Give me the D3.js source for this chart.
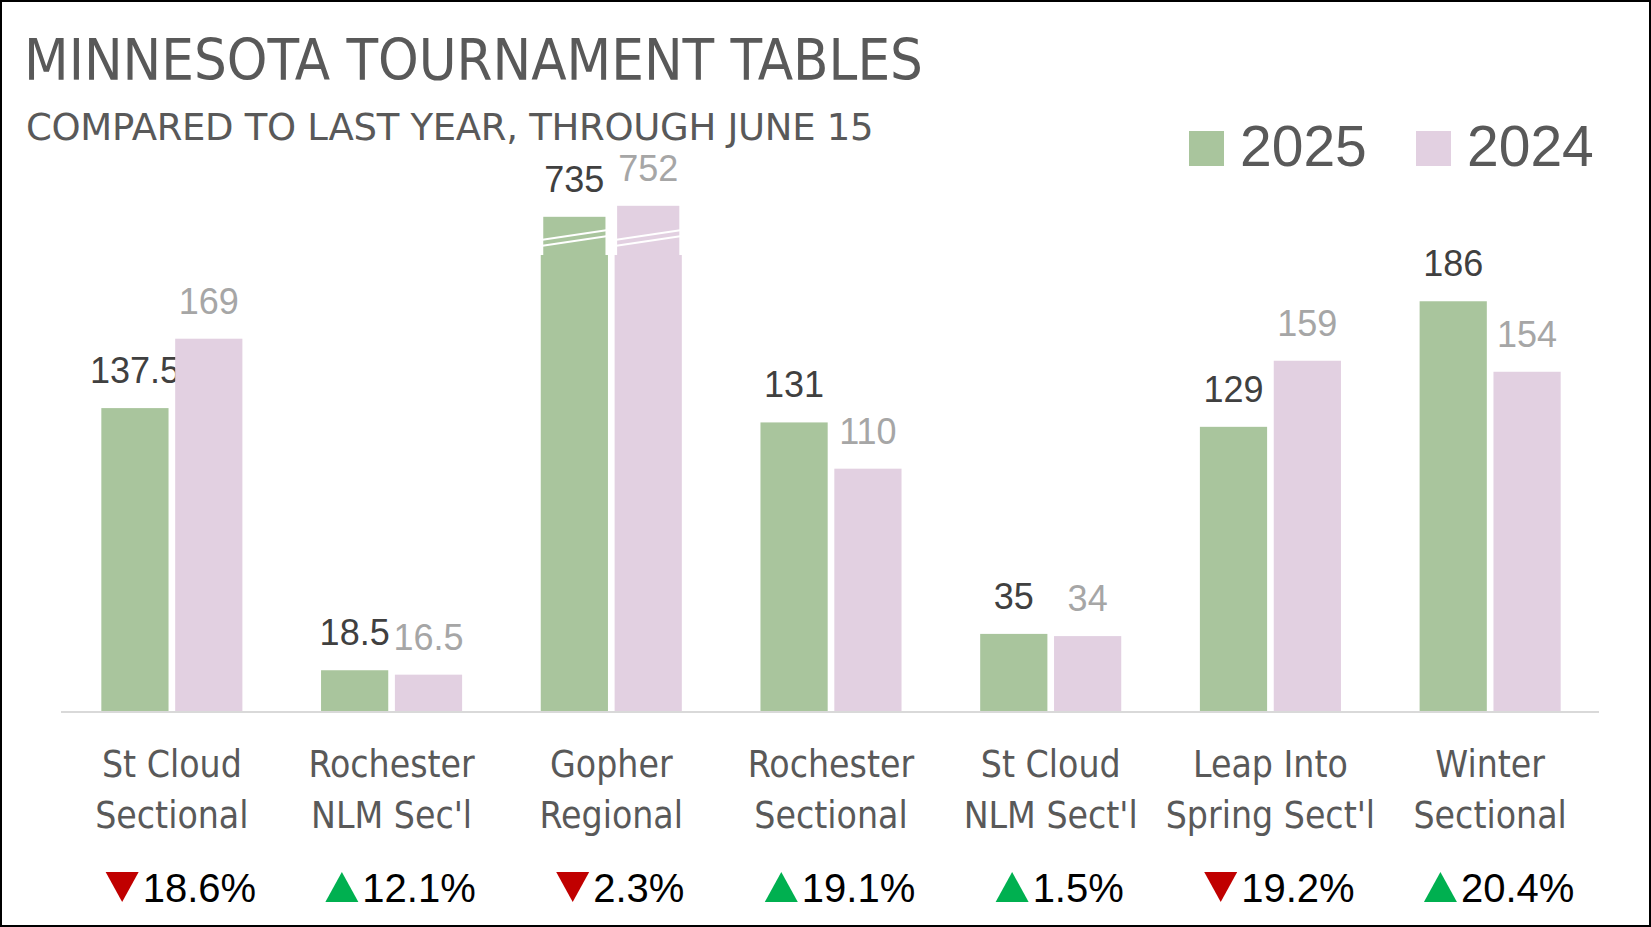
<!DOCTYPE html>
<html>
<head>
<meta charset="utf-8">
<script src="https://cdn.jsdelivr.net/npm/d3@7"></script>
<style>
  html, body { margin: 0; padding: 0; background: #fff; }
  svg { display: block; }
</style>
</head>
<body>
<svg id="chart" width="1651" height="927"></svg>
<script>
// Data
const categories = [
    ["St Cloud", "Sectional"],
    ["Rochester", "NLM Sec'l"],
    ["Gopher", "Regional"],
    ["Rochester", "Sectional"],
    ["St Cloud", "NLM Sect'l"],
    ["Leap Into", "Spring Sect'l"],
    ["Winter", "Sectional"]
];
const years = ["2025", "2024"];
const values2025 = [137.5, 18.5, 735, 131, 35, 129, 186];
const values2024 = [169, 16.5, 752, 110, 34, 159, 154];
const changes = [-18.6, 12.1, -2.3, 19.1, 1.5, -19.2, 20.4];

const colors = {"2025": "#a9c59d", "2024": "#e2d0e1"};
const labelColors = {"2025": "#404040", "2024": "#a6a6a6"};

const W = 1651, H = 927;
const baseline = 711;
const svg = d3.select("#chart");

// Outer frame
svg.append("rect")
    .attr("x", 1).attr("y", 1)
    .attr("width", W - 2).attr("height", H - 2)
    .attr("fill", "#fff")
    .attr("stroke", "#000")
    .attr("stroke-width", 2);

// Title + subtitle
svg.append("text")
    .attr("x", 24).attr("y", 80)
    .attr("font-family", "DejaVu Sans Condensed, DejaVu Sans")
    .attr("font-size", 57.5)
    .attr("fill", "#595959")
    .text("MINNESOTA TOURNAMENT TABLES");

svg.append("text")
    .attr("x", 26).attr("y", 140)
    .attr("font-family", "DejaVu Sans, sans-serif")
    .attr("font-size", 37)
    .attr("letter-spacing", -0.3)
    .attr("fill", "#595959")
    .text("COMPARED TO LAST YEAR, THROUGH JUNE 15");

// Scales
const rows = categories.map((c, i) => ({
    idx: i,
    name: c,
    values: [
        {year: "2025", value: values2025[i]},
        {year: "2024", value: values2024[i]}
    ],
    change: changes[i]
}));

const x0 = d3.scaleBand()
    .domain(d3.range(categories.length))
    .range([62, 1600])
    .paddingInner(0.358)
    .paddingOuter(0.179);

const x1 = d3.scaleBand()
    .domain(years)
    .range([0, x0.bandwidth()])
    .paddingInner(0.09);

// broken axis: everything between breakLo and breakHi is squeezed out
const breakLo = 207, breakHi = 676;
const y = d3.scaleLinear()
    .domain([0, breakLo, breakHi, 752])
    .range([baseline, 255, 255, 205.8]);

// Bars
const groups = svg.append("g").selectAll("g")
    .data(rows)
    .join("g")
    .attr("transform", d => `translate(${x0(d.idx)},0)`);

const bars = groups.selectAll("g.bar")
    .data(d => d.values)
    .join("g")
    .attr("class", "bar");

bars.append("rect")
    .attr("x", d => x1(d.year))
    .attr("y", d => y(Math.min(d.value, breakLo)))
    .attr("width", x1.bandwidth())
    .attr("height", d => baseline - y(Math.min(d.value, breakLo)))
    .attr("fill", d => colors[d.year]);

// top piece of the broken bars, slightly inset
const broken = bars.filter(d => d.value > breakLo);

broken.append("rect")
    .attr("x", d => x1(d.year) + 2.5)
    .attr("y", d => y(d.value))
    .attr("width", x1.bandwidth() - 5)
    .attr("height", d => y(breakLo) - y(d.value) + 1)
    .attr("fill", d => colors[d.year]);

[[15, 25], [9, 19]].forEach(([l, r]) => {
    broken.append("line")
        .attr("x1", d => x1(d.year))
        .attr("x2", d => x1(d.year) + x1.bandwidth())
        .attr("y1", y(breakLo) - l)
        .attr("y2", y(breakLo) - r)
        .attr("stroke", "#fff")
        .attr("stroke-width", 2);
});

// Value labels
bars.append("text")
    .attr("x", d => x1(d.year) + x1.bandwidth() / 2)
    .attr("y", d => y(d.value) - 25)
    .attr("text-anchor", "middle")
    .attr("font-family", "Liberation Sans, Arial, sans-serif")
    .attr("font-size", 36)
    .attr("fill", d => labelColors[d.year])
    .text(d => String(d.value));

// Baseline
svg.append("line")
    .attr("x1", 61).attr("x2", 1599)
    .attr("y1", baseline + 1).attr("y2", baseline + 1)
    .attr("stroke", "#d9d9d9")
    .attr("stroke-width", 2);

// Category labels
const catLabels = svg.append("g")
    .attr("font-family", "DejaVu Sans Condensed, DejaVu Sans")
    .attr("font-size", 37)
    .attr("fill", "#595959")
    .attr("text-anchor", "middle");

rows.forEach(d => {
    const cx = x0(d.idx) + x0.bandwidth() / 2;
    d.name.forEach((line, j) => {
        catLabels.append("text")
            .attr("x", cx)
            .attr("y", 777 + j * 51)
            .text(line);
    });
});

// Change row: triangle + percent
const pctY = 902;
rows.forEach(d => {
    const cx = x0(d.idx) + x0.bandwidth() / 2 + 9;
    const g = svg.append("g");
    const t = g.append("text")
        .attr("y", pctY)
        .attr("font-family", "Liberation Sans, Arial, sans-serif")
        .attr("font-size", 40)
        .attr("fill", "#000")
        .text(Math.abs(d.change).toFixed(1) + "%");
    const tw = t.node().getComputedTextLength();
    const triW = 33, triH = 30, gap = 4;
    const left = cx - (triW + gap + tw) / 2;
    const up = d.change >= 0;
    const pts = up
        ? [[left, pctY], [left + triW, pctY], [left + triW / 2, pctY - triH]]
        : [[left, pctY - triH], [left + triW, pctY - triH], [left + triW / 2, pctY]];
    g.append("polygon")
        .attr("points", pts.map(p => p.join(",")).join(" "))
        .attr("fill", up ? "#00b050" : "#c00000");
    t.attr("x", left + triW + gap);
});

// Legend
const legend = svg.append("g");
const legendX = {"2025": 1189, "2024": 1416};
years.forEach(yr => {
    legend.append("rect")
        .attr("x", legendX[yr]).attr("y", 131)
        .attr("width", 35).attr("height", 35)
        .attr("fill", colors[yr]);
    legend.append("text")
        .attr("x", legendX[yr] + 51).attr("y", 166)
        .attr("font-family", "Liberation Sans, Arial, sans-serif")
        .attr("font-size", 57)
        .attr("fill", "#595959")
        .text(yr);
});
</script>
</body>
</html>
